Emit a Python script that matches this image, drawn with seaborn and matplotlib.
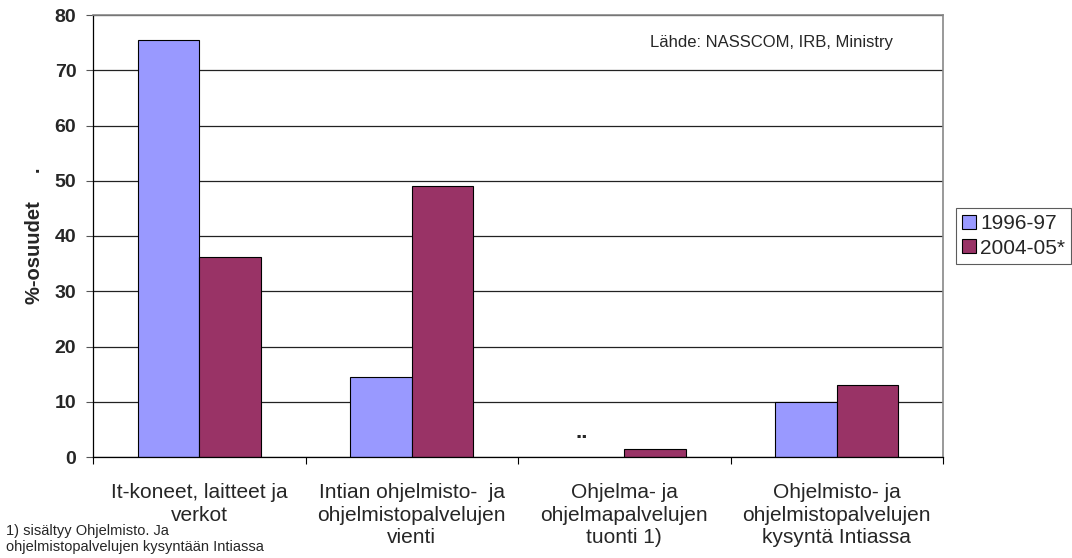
import numpy as np
import pandas as pd
import matplotlib
matplotlib.use("Agg")
import matplotlib.pyplot as plt
import seaborn as sns

categories = [
    "It-koneet, laitteet ja\nverkot",
    "Intian ohjelmisto-  ja\nohjelmistopalvelujen\nvienti",
    "Ohjelma- ja\nohjelmapalvelujen\ntuonti 1)",
    "Ohjelmisto- ja\nohjelmistopalvelujen\nkysyntä Intiassa",
]
series_names = ["1996-97", "2004-05*"]
values_1996 = [75.5, 14.5, np.nan, 10.0]
values_2004 = [36.2, 49.0, 1.5, 13.0]
y_ticks = [0, 10, 20, 30, 40, 50, 60, 70, 80]

df = pd.DataFrame({
    "cat": categories * 2,
    "series": [series_names[0]] * 4 + [series_names[1]] * 4,
    "val": values_1996 + values_2004,
})

sns.set_style("white")
plt.rcParams["font.family"] = ["Liberation Sans", "DejaVu Sans"]

fig = plt.figure(figsize=(10.72, 5.58), dpi=100)
ax = fig.add_axes([93 / 1072, 1 - 457 / 558, 850 / 1072, 442 / 558])

palette = {"1996-97": "#9999FF", "2004-05*": "#993366"}
sns.barplot(data=df, x="cat", y="val", hue="series", palette=palette,
            width=0.58, edgecolor="black", linewidth=0.8, ax=ax,
            legend=False, saturation=1)

ax.set_ylim(0, 80)
ax.set_xlim(-0.5, 3.5)
ax.set_yticks(y_ticks)
ax.set_yticklabels([str(t) for t in y_ticks], fontsize=14, fontweight="bold")
ax.yaxis.grid(True, color="#222222", linewidth=0.9)
ax.set_axisbelow(True)
ax.tick_params(axis="y", length=5, width=0.8, color="#555555", direction="out", left=True, pad=7)

ax.set_xticks(range(len(categories)))
ax.set_xticklabels(categories, fontsize=15, linespacing=1.22)
ax.tick_params(axis="x", which="major", length=0, pad=19)
ax.set_xticks([-0.5, 0.5, 1.5, 2.5, 3.5], minor=True)
ax.tick_params(axis="x", which="minor", length=5, width=0.8, color="black", direction="out", bottom=True)

ax.set_xlabel("")
ax.set_ylabel("%-osuudet     .", fontsize=14.5, fontweight="bold", labelpad=8)

for side in ["left", "bottom"]:
    ax.spines[side].set_color("black")
    ax.spines[side].set_linewidth(0.9)
for side in ["top", "right"]:
    ax.spines[side].set_visible(True)
    ax.spines[side].set_color("#888888")
    ax.spines[side].set_linewidth(1.2)

# missing value marker
ax.text(1.80, 2.6, "..", ha="center", va="bottom", fontsize=16, fontweight="bold")

ax.text(0.655, 75.0, "Lähde: NASSCOM, IRB, Ministry", transform=ax.get_yaxis_transform(),
        fontsize=12, ha="left", va="center")

from matplotlib.patches import Patch
handles = [Patch(facecolor=palette[s], edgecolor="black", linewidth=0.8) for s in series_names]
leg = fig.legend(handles, series_names, loc="center left",
                 bbox_to_anchor=(956 / 1072, 1 - 236 / 558), fontsize=15,
                 frameon=True, fancybox=False, edgecolor="#333333",
                 handlelength=0.65, handleheight=0.65, handletextpad=0.2,
                 borderpad=0.3, labelspacing=0.25, borderaxespad=0)
leg.get_frame().set_linewidth(0.8)

fig.text(6 / 1072, 1 - 539 / 558, "1) sisältyy Ohjelmisto. Ja\nohjelmistopalvelujen kysyntään Intiassa",
         fontsize=10.5, ha="left", va="center", linespacing=1.15)

fig.savefig("out.png", dpi=100)
